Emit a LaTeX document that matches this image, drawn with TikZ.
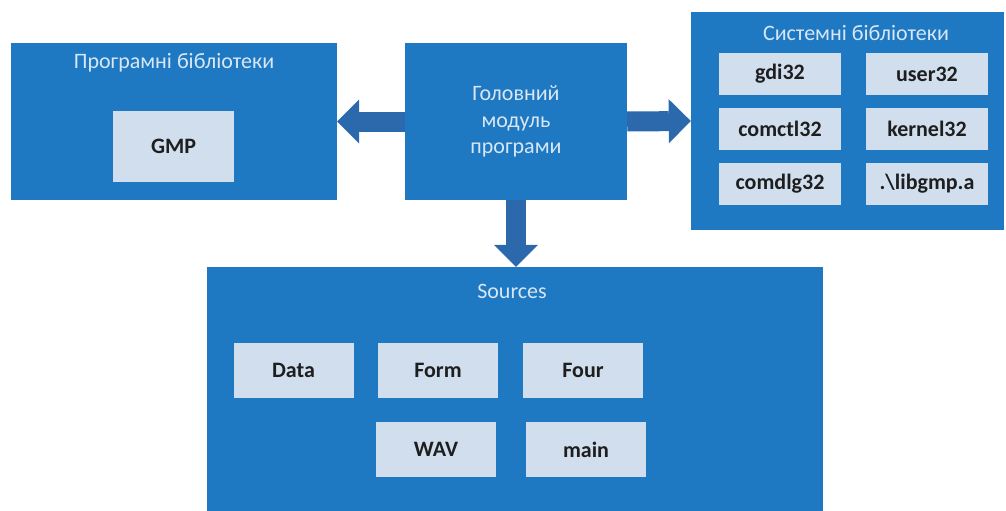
\documentclass[tikz,border=0pt]{standalone}
\usepackage{fontspec}
\setmainfont{Carlito}
\usetikzlibrary{arrows.meta}
\definecolor{boxblue}{HTML}{1E78C2}
\definecolor{arrowblue}{HTML}{2B69AC}
\definecolor{itemfill}{HTML}{D0DEEE}
\definecolor{titletext}{HTML}{D8E7F5}
\definecolor{itemtext}{HTML}{1E1E1E}
\tikzset{
  group/.style={fill=boxblue, draw=none, inner sep=0pt},
  item/.style={fill=itemfill, draw=none, inner sep=0pt, text=itemtext,
    font=\fontsize{22}{27}\selectfont\bfseries},
  heading/.style={text=titletext, inner sep=0pt, font=\fontsize{22}{27}\selectfont},
  blockarrow/.style={draw=arrowblue, line width=20pt,
    -{Triangle[width=44pt,length=22pt,line width=0pt,fill=arrowblue]}},
}
\begin{document}
\begin{tikzpicture}[x=1pt,y=-1pt]
\useasboundingbox (0,0) rectangle (1006,511);

% outer groups
\node[group, minimum width=326pt, minimum height=157pt] (lib) at (174,121.5) {};
\node[group, minimum width=222pt, minimum height=157pt, text=titletext,
      align=center, font=\fontsize{22}{26.5}\selectfont] (core) at (516,121.5)
      {Головний\\модуль\\програми};
\node[group, minimum width=313pt, minimum height=218pt] (sys) at (847.5,121) {};
\node[group, minimum width=616pt, minimum height=248pt] (src) at (515,391) {};

% group headings
\node[heading] (libtitle) at (174,63) {Програмні бібліотеки};
\node[heading] (systitle) at (856,33) {Системні бібліотеки};
\node[heading] (srctitle) at (512,291) {Sources};

% program libraries
\node[item, minimum width=121pt, minimum height=71pt] (gmp) at (173.5,146.5) {GMP};

% system libraries
\begin{scope}[every node/.style={item, minimum width=122pt, minimum height=42pt}]
  \node (gdi) at (780,74) {gdi32};
  \node (user) at (927,74) {user32};
  \node (comctl) at (780,129) {comctl32};
  \node (kernel) at (927,129) {kernel32};
  \node (comdlg) at (780,184) {comdlg32};
  \node (libgmp) at (927,184) {.\textbackslash libgmp.a};
\end{scope}

% source modules
\begin{scope}[every node/.style={item, minimum width=120pt, minimum height=55pt}]
  \node (data) at (293.5,370) {Data};
  \node (form) at (438,370) {Form};
  \node (four) at (583,370) {Four};
  \node (wav) at (436,449.5) {WAV};
  \node (mainsrc) at (586,449.5) {main};
\end{scope}

% dependencies of the main module
\draw[blockarrow] (core.west) -- (lib.east);
\draw[blockarrow] (core.east) -- (sys.west);
\draw[blockarrow] (core.south) -- (core.south |- src.north);
\end{tikzpicture}
\end{document}
